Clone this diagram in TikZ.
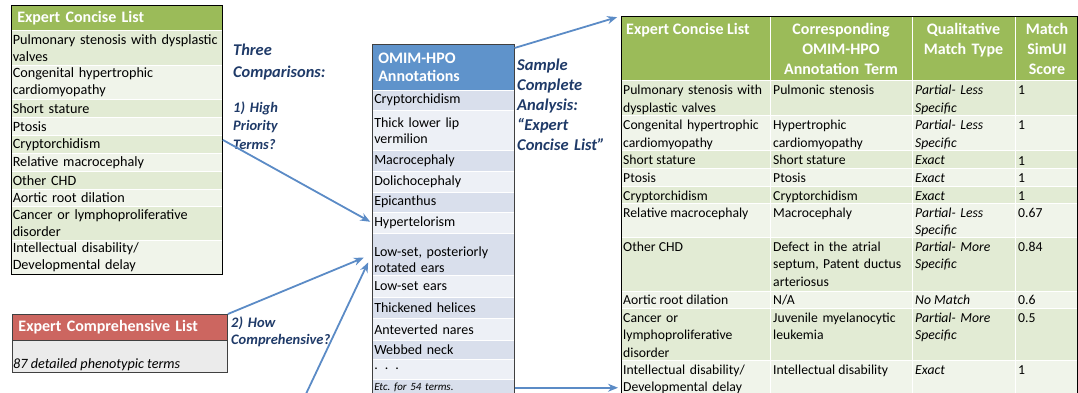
\documentclass[tikz,border=0pt]{standalone}
\usepackage{fontspec}
\setmainfont{Carlito}
\usetikzlibrary{arrows.meta}
\hyphenpenalty=10000
\exhyphenpenalty=10000

\definecolor{hdrgreen}{HTML}{9BBB59}
\definecolor{bandgreen}{HTML}{E2EBD4}
\definecolor{palegreen}{HTML}{F0F4EA}
\definecolor{hdrblue}{HTML}{5F93CB}
\definecolor{bandblue}{HTML}{D9DFEC}
\definecolor{paleblue}{HTML}{EDF0F6}
\definecolor{hdrred}{HTML}{CC6660}
\definecolor{boxgrey}{HTML}{EBEBEB}
\definecolor{framegrey}{HTML}{404040}
\definecolor{navy}{HTML}{1F3A68}
\definecolor{arrowblue}{HTML}{5B8BC6}

\newcommand{\cellfont}{\fontsize{14.2}{17}\selectfont}
\newcommand{\ocellfont}{\fontsize{14}{16}\selectfont}
\newcommand{\rcellfont}{\fontsize{13.7}{17.5}\selectfont}
\newcommand{\headfont}{\fontsize{16}{18}\selectfont\bfseries}

\begin{document}
\begin{tikzpicture}[x=1pt, y=-1pt, >={Stealth[length=10pt, width=8pt]},
    lrow/.style={anchor=north west, text width=208pt, inner xsep=1.5pt, inner ysep=0pt,
                 align=left, draw=white, line width=0.5pt, font=\cellfont},
    orow/.style={anchor=north west, text width=138pt, inner xsep=2pt, inner ysep=0pt,
                 align=left, draw=white, line width=0.5pt, font=\ocellfont},
    lhead/.style={anchor=north west, inner xsep=6pt, inner ysep=0pt, align=left,
                  draw=white, line width=0.5pt, text=white, font=\headfont},
    rband/.style={anchor=north west, minimum width=456pt, inner sep=0pt,
                  draw=white, line width=0.5pt},
    rcell/.style={anchor=base west, inner xsep=0pt, inner ysep=0pt, align=left, font=\rcellfont},
    rhead/.style={anchor=base, inner sep=0pt, align=center, text=white,
                  font=\fontsize{16}{20}\selectfont\bfseries},
    tabframe/.style={anchor=north west, draw=#1, line width=0.9pt, inner sep=0pt},
    tabframe/.default=black,
    lbl/.style={anchor=base west, align=left, inner sep=0pt, text width=150pt, text=navy},
    link/.style={->, draw=arrowblue, line width=1.8pt}]

\useasboundingbox (0,0) rectangle (1078,393);
\clip (0,0) rectangle (1078,393);

    % Expert Concise List (kiri)
    \node[lhead, fill=hdrgreen, text width=199pt, minimum height=25pt] (cHead) at (11,5) {Expert Concise List};
    \node[lrow, fill=bandgreen, minimum height=35pt] (c1) at (11,30) {\mbox{Pulmonary stenosis with dysplastic}\\valves};
    \node[lrow, fill=palegreen, minimum height=34pt] (c2) at (11,65) {Congenital hypertrophic\\cardiomyopathy};
    \node[lrow, fill=bandgreen, minimum height=18pt] (c3) at (11,99) {Short stature};
    \node[lrow, fill=palegreen, minimum height=18pt] (c4) at (11,117) {Ptosis};
    \node[lrow, fill=bandgreen, minimum height=18pt] (c5) at (11,135) {Cryptorchidism};
    \node[lrow, fill=palegreen, minimum height=18pt] (c6) at (11,153) {Relative macrocephaly};
    \node[lrow, fill=bandgreen, minimum height=18pt] (c7) at (11,171) {Other CHD};
    \node[lrow, fill=palegreen, minimum height=17pt] (c8) at (11,189) {Aortic root dilation};
    \node[lrow, fill=bandgreen, minimum height=34pt] (c9) at (11,206) {Cancer or lymphoproliferative\\disorder};
    \node[lrow, fill=palegreen, minimum height=34pt] (c10) at (11,240) {Intellectual disability/\\Developmental delay};
    \node[tabframe, minimum width=211pt, minimum height=269pt] (concise) at (11,5) {};

    % Expert Comprehensive List
    \node[lhead, fill=hdrred, draw=framegrey, line width=0.9pt, text width=203pt, minimum height=26pt] (compHead) at (12,314) {Expert Comprehensive List};
    \node[tabframe=framegrey, fill=boxgrey, minimum width=215pt, minimum height=32pt] (compBody) at (12,340) {};
    \node[anchor=base west, inner sep=0pt, font=\fontsize{14.2}{16}\selectfont\itshape] (compNote) at (13,368) {87 detailed phenotypic terms};
    \node[tabframe=framegrey, minimum width=215pt, minimum height=58pt] (comp) at (12,314) {};

    % OMIM-HPO Annotations
    \node[lhead, fill=hdrblue, text width=130pt, minimum height=46pt] (oHead) at (372,44) {OMIM-HPO\\Annotations};
    \node[orow, fill=bandblue, minimum height=20pt] (o1) at (372,90) {Cryptorchidism};
    \node[orow, fill=paleblue, minimum height=40pt] (o2) at (372,110) {Thick lower lip\\vermilion};
    \node[orow, fill=bandblue, minimum height=21pt] (o3) at (372,150) {Macrocephaly};
    \node[orow, fill=paleblue, minimum height=21pt] (o4) at (372,171) {Dolichocephaly};
    \node[orow, fill=bandblue, minimum height=20pt] (o5) at (372,192) {Epicanthus};
    \node[orow, fill=paleblue, minimum height=21pt] (o6) at (372,212) {Hypertelorism};
    \node[orow, fill=bandblue, minimum height=42pt] (o7) at (372,233) {\rule{0pt}{20pt}Low-set, posteriorly\\rotated ears};
    \node[orow, fill=paleblue, minimum height=22pt] (o8) at (372,275) {Low-set ears};
    \node[orow, fill=bandblue, minimum height=21pt] (o9) at (372,297) {Thickened helices};
    \node[orow, fill=paleblue, minimum height=22pt] (o10) at (372,318) {Anteverted nares};
    \node[orow, fill=bandblue, minimum height=19pt] (o11) at (372,340) {Webbed neck};
    \node[orow, fill=paleblue, minimum height=20pt] (o12) at (372,359) {. . .};
    \node[orow, fill=bandblue, minimum height=17pt, font=\fontsize{11}{13}\selectfont\itshape] (o13) at (372,379) {Etc.\ for 54 terms.};
    \node[tabframe=framegrey, minimum width=142pt, minimum height=354pt] (omim) at (372,44) {};

    % Sample complete analysis (kanan)
    \node[rband, fill=hdrgreen, minimum height=64pt] (rHead) at (621,16) {};
    \node[rband, fill=bandgreen, minimum height=35pt] (r1) at (621,80) {};
    \node[rband, fill=palegreen, minimum height=35pt] (r2) at (621,115) {};
    \node[rband, fill=bandgreen, minimum height=18pt] (r3) at (621,150) {};
    \node[rband, fill=palegreen, minimum height=18pt] (r4) at (621,168) {};
    \node[rband, fill=bandgreen, minimum height=17pt] (r5) at (621,186) {};
    \node[rband, fill=palegreen, minimum height=34pt] (r6) at (621,203) {};
    \node[rband, fill=bandgreen, minimum height=54pt] (r7) at (621,237) {};
    \node[rband, fill=palegreen, minimum height=17pt] (r8) at (621,291) {};
    \node[rband, fill=bandgreen, minimum height=52pt] (r9) at (621,308) {};
    \node[rband, fill=palegreen, minimum height=38pt] (r10) at (621,360) {};
    \draw[white, line width=1pt] (770,16) -- (770,398) (912,16) -- (912,398) (1015,16) -- (1015,398);

    \node[rhead, anchor=base west] (h1) at (626,35) {Expert Concise List};
    \node[rhead, text width=138pt] (h2) at (841,35) {Corresponding\\OMIM-HPO\\Annotation Term};
    \node[rhead, text width=100pt] (h3) at (963.5,35) {Qualitative\\Match Type};
    \node[rhead, text width=60pt] (h4) at (1047,35) {Match\\SimUI\\Score};

    \node[rcell, text width=146pt] (r1a) at (623,95) {Pulmonary stenosis with\\dysplastic valves};
    \node[rcell, text width=138pt] (r1b) at (773,95) {Pulmonic stenosis};
    \node[rcell, text width=98pt, font=\rcellfont\itshape] (r1c) at (915,95) {Partial- Less\\Specific};
    \node[rcell] (r1d) at (1018,95) {1};
    \node[rcell, text width=146pt] (r2a) at (623,130) {Congenital hypertrophic\\cardiomyopathy};
    \node[rcell, text width=138pt] (r2b) at (773,130) {Hypertrophic\\cardiomyopathy};
    \node[rcell, text width=98pt, font=\rcellfont\itshape] (r2c) at (915,130) {Partial- Less\\Specific};
    \node[rcell] (r2d) at (1018,130) {1};
    \node[rcell] (r3a) at (623,164) {Short stature};
    \node[rcell] (r3b) at (773,164) {Short stature};
    \node[rcell, font=\rcellfont\itshape] (r3c) at (915,164) {Exact};
    \node[rcell] (r3d) at (1018,165) {1};
    \node[rcell] (r4a) at (623,182) {Ptosis};
    \node[rcell] (r4b) at (773,182) {Ptosis};
    \node[rcell, font=\rcellfont\itshape] (r4c) at (915,182) {Exact};
    \node[rcell] (r4d) at (1018,182) {1};
    \node[rcell] (r5a) at (623,200) {Cryptorchidism};
    \node[rcell] (r5b) at (773,200) {Cryptorchidism};
    \node[rcell, font=\rcellfont\itshape] (r5c) at (915,200) {Exact};
    \node[rcell] (r5d) at (1018,200) {1};
    \node[rcell] (r6a) at (623,217) {Relative macrocephaly};
    \node[rcell] (r6b) at (773,217) {Macrocephaly};
    \node[rcell, text width=98pt, font=\rcellfont\itshape] (r6c) at (915,217) {Partial- Less\\Specific};
    \node[rcell] (r6d) at (1018,217) {0.67};
    \node[rcell] (r7a) at (623,251) {Other CHD};
    \node[rcell, text width=138pt] (r7b) at (773,251) {Defect in the atrial\\septum, Patent ductus\\arteriosus};
    \node[rcell, text width=98pt, font=\rcellfont\itshape] (r7c) at (915,251) {Partial- More\\Specific};
    \node[rcell] (r7d) at (1018,251) {0.84};
    \node[rcell] (r8a) at (623,304) {Aortic root dilation};
    \node[rcell] (r8b) at (773,304) {N/A};
    \node[rcell, font=\rcellfont\itshape] (r8c) at (915,304) {No Match};
    \node[rcell] (r8d) at (1018,304) {0.6};
    \node[rcell, text width=146pt] (r9a) at (623,322) {Cancer or\\lymphoproliferative\\disorder};
    \node[rcell, text width=138pt] (r9b) at (773,322) {Juvenile myelanocytic\\leukemia};
    \node[rcell, text width=98pt, font=\rcellfont\itshape] (r9c) at (915,322) {Partial- More\\Specific};
    \node[rcell] (r9d) at (1018,322) {0.5};
    \node[rcell, text width=146pt] (r10a) at (623,374) {Intellectual disability/\\Developmental delay};
    \node[rcell] (r10b) at (773,374) {Intellectual disability};
    \node[rcell, font=\rcellfont\itshape] (r10c) at (915,374) {Exact};
    \node[rcell] (r10d) at (1018,374) {1};
    \node[tabframe, minimum width=456pt, minimum height=382pt] (rtab) at (621,16) {};

    % Keterangan (biru tua, miring)
    \node[lbl, font=\fontsize{16.4}{22}\selectfont\bfseries\itshape] (three) at (233,56) {Three\\Comparisons:};
    \node[lbl, font=\fontsize{14.5}{18}\selectfont\bfseries\itshape] (prio) at (233,113) {1) High\\Priority\\Terms?};
    \node[lbl, font=\fontsize{14.5}{17}\selectfont\bfseries\itshape] (how) at (231,327) {2) How\\Comprehensive?};
    \node[lbl, font=\fontsize{16.5}{20}\selectfont\bfseries\itshape] (sample) at (517,71) {Sample\\Complete\\Analysis:\\“Expert\\Concise List”};

    % Panah
    \coordinate (lowStart) at (305,396);
    \draw[link, shorten >=2pt] (concise.east) -- (o6.west);
    \draw[link, shorten >=9pt] (comp.north east) -- (o7.west);
    \draw[link, shorten >=9pt] (lowStart) -- (o7.west);
    \draw[link, shorten >=4pt] ([yshift=-4pt]oHead.north east) -- (rtab.north west);
    \draw[link, shorten >=3pt] (o13.east) -- (o13.east -| rtab.west);

\end{tikzpicture}
\end{document}
